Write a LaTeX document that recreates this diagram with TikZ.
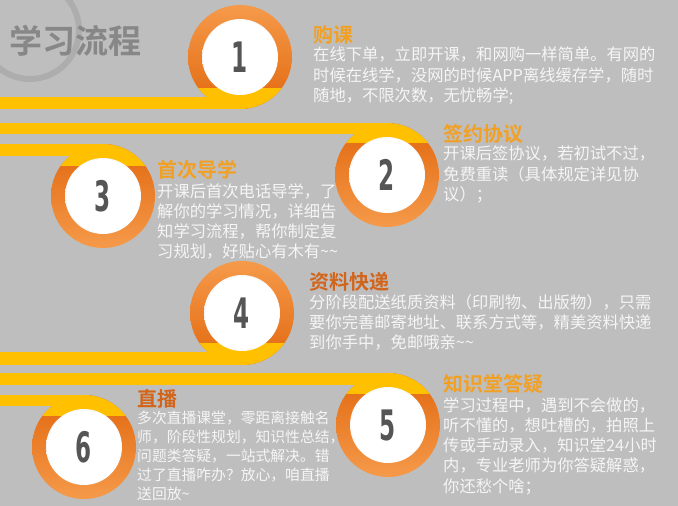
\documentclass[tikz,border=0pt]{standalone}
\usepackage{fontspec}
\setmainfont{Liberation Sans}
\newfontfamily\cjk{Noto Sans CJK SC}
\newfontfamily\cjkb{Noto Sans CJK SC Bold}
\newfontfamily\numf{DejaVu Sans}[BoldFont={DejaVu Sans Bold}]
\definecolor{bg}{HTML}{BEBEBE}
\definecolor{yel}{HTML}{FFC000}
\definecolor{orL}{HTML}{F59A4A}
\definecolor{orD}{HTML}{E2680F}
\definecolor{headA}{HTML}{F2A024}
\definecolor{headB}{HTML}{D2651C}
\definecolor{numc}{HTML}{555555}
\pgfdeclareradialshading{ball}{\pgfpoint{0bp}{0bp}}{color(0bp)=(white);color(24bp)=(white);color(31bp)=(black!22);color(35bp)=(black!45);color(50bp)=(black!45)}
\tikzset{
  x=1pt,y=-1pt,
  body/.style={anchor=north west,align=left,text=white!96!black,font=\cjk\fontsize{16.3}{20.3}\selectfont,inner sep=0pt},
  bodys/.style={body,font=\cjk\fontsize{14.8}{19}\selectfont},
  head/.style={anchor=west,inner sep=0pt,font=\cjkb\fontsize{20}{20}\selectfont,text=headA},
  headb/.style={head,text=headB},
  numtxt/.style={font=\numf\bfseries\fontsize{42}{42}\selectfont,text=numc,inner sep=0pt}
}
\newcommand{\stepcircle}[7]{%
  \ifnum#5=1
    \shade[top color=orL,bottom color=orD] (#2,#3) circle (52);
    \begin{scope}\clip (#2,#3) circle (52);
      \fill[yel] (#2-60,#7) rectangle (#2+60,#3+60);
    \end{scope}
    \fill[yel] (0,#6) rectangle (#2,#3+52);
  \else
    \shade[top color=orD,bottom color=orL] (#2,#3) circle (52);
    \begin{scope}\clip (#2,#3) circle (52);
      \fill[yel] (#2-60,#3-60) rectangle (#2+60,#7);
    \end{scope}
    \fill[yel] (0,#3-52) rectangle (#2,#6);
  \fi
  \shade[shading=ball] (#2,#3) circle (38);
  \node[numtxt] (#1) at (#2,#3) {\scalebox{0.55}[1]{#4}};
}
\begin{document}
\begin{tikzpicture}
\fill[bg] (0,0) rectangle (678,506);
\useasboundingbox (0,0) rectangle (678,506);
\begin{scope}
\clip (0,0) rectangle (678,506);
\draw[black!32,line width=6] (30,30) circle (49);
\end{scope}
\node[anchor=west,inner sep=0pt,font=\cjkb\fontsize{33}{33}\selectfont,text=black!47] (title) at (9,41) {学习流程};

\stepcircle{c1}{240}{57}{1}{1}{97}{88}
\stepcircle{c2}{387}{175}{2}{0}{134}{143}
\stepcircle{c3}{103}{196}{3}{0}{156}{166}
\stepcircle{c4}{242}{313}{4}{1}{352}{343}
\stepcircle{c5}{388}{425}{5}{0}{385}{394}
\stepcircle{c6}{84}{447}{6}{0}{406}{416}

\node[head] (h1) at (313,35) {购课};
\node[body] (t1) at (313,47) {在线下单，立即开课，和网购一样简单。有网的\\时候在线学，没网的时候APP离线缓存学，随时\\随地，不限次数，无忧畅学;};
\node[head] (h2) at (443,134) {签约协议};
\node[body] (t2) at (443,146) {开课后签协议，若初试不过，\\免费重读（具体规定详见协\\议）；};
\node[head] (h3) at (157,170) {首次导学};
\node[body] (t3) at (157,183) {开课后首次电话导学，了\\解你的学习情况，详细告\\知学习流程，帮你制定复\\习规划，好贴心有木有\textasciitilde\textasciitilde};
\node[headb] (h4) at (309,282) {资料快递};
\node[body] (t4) at (309,294) {分阶段配送纸质资料（印刷物、出版物），只需\\要你完善邮寄地址、联系方式等，精美资料快递\\到你手中，免邮哦亲\textasciitilde\textasciitilde};
\node[head] (h5) at (443,384) {知识堂答疑};
\node[body] (t5) at (443,397) {学习过程中，遇到不会做的，\\听不懂的，想吐槽的，拍照上\\传或手动录入，知识堂24小时\\内，专业老师为你答疑解惑，\\你还愁个啥；};
\node[headb] (h6) at (137,399) {直播};
\node[bodys] (t6) at (137,411) {多次直播课堂，零距离接触名\\师，阶段性规划，知识性总结，\\问题类答疑，一站式解决。错\\过了直播咋办？放心，咱直播\\送回放\textasciitilde};
\end{tikzpicture}
\end{document}
